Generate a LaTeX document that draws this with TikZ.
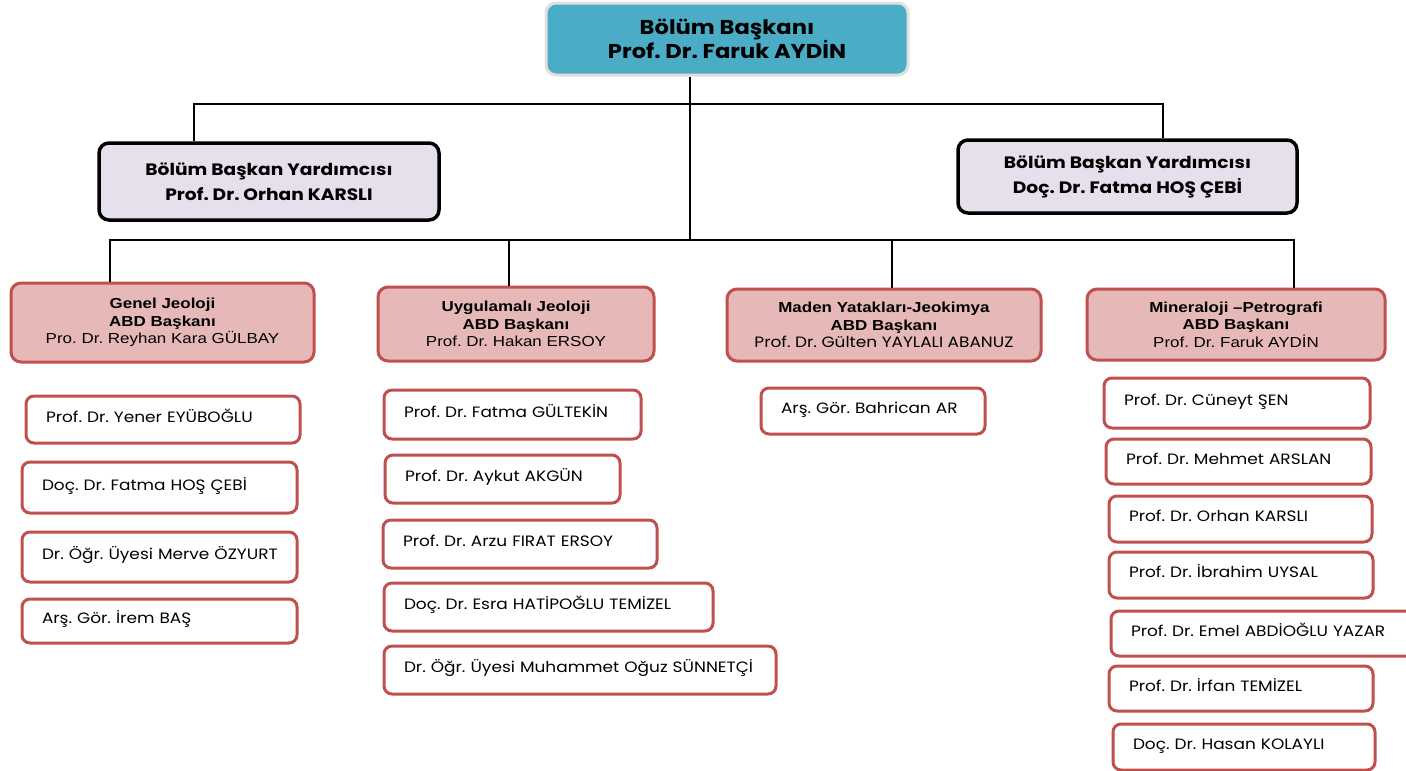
\documentclass[tikz,border=0pt]{standalone}
\usepackage{fontspec}
\setmainfont[FakeStretch=1.13]{Poppins}
\newfontfamily\arialf[FakeStretch=1.17]{Liberation Sans}
\definecolor{topteal}{HTML}{4BACC6}
\definecolor{lav}{HTML}{E5E0EC}
\definecolor{abdpink}{HTML}{E6B9B8}
\definecolor{abdred}{HTML}{C0504D}
\newcommand\cbox[7]{%
  \pgfmathsetmacro\cx{(#3+#5)/2}\pgfmathsetmacro\cy{(#4+#6)/2}%
  \pgfmathsetmacro\ww{#5-#3}\pgfmathsetmacro\hh{#6-#4}%
  \node[#1, minimum width=\ww pt, minimum height=\hh pt] (#2) at (\cx,\cy) {#7};}
\newcommand\lbox[6]{%
  \pgfmathsetmacro\cx{(#2+#4)/2}\pgfmathsetmacro\cy{(#3+#5)/2}%
  \pgfmathsetmacro\ww{#4-#2}\pgfmathsetmacro\hh{#5-#3}\pgfmathsetmacro\tw{\ww-40}%
  \node[memb, minimum width=\ww pt, minimum height=\hh pt, text width=\tw pt] (#1) at (\cx,\cy) {\hbox{#6}};}
\frenchspacing
\begin{document}
\begin{tikzpicture}[x=1pt,y=-1pt,
  topbox/.style={draw=black!12, line width=3pt, fill=topteal, rounded corners=10pt, align=center,
    font=\bfseries\fontsize{20}{24}\selectfont},
  vpbox/.style={draw=black, line width=3.5pt, fill=lav, rounded corners=10pt, align=center,
    font=\bfseries\fontsize{16.5}{25}\selectfont},
  abd/.style={draw=abdred, line width=3pt, fill=abdpink, rounded corners=10pt, align=center,
    font=\arialf\fontsize{14.5}{17.5}\selectfont, inner sep=0pt},
  memb/.style={draw=abdred, line width=3pt, fill=white, rounded corners=8pt, align=left,
    inner xsep=20pt, inner ysep=0pt, text height=11pt, text depth=6pt,
    font=\fontsize{15}{16}\selectfont},
  conn/.style={line width=1.8pt, black}]
\useasboundingbox (0,0) rectangle (1406,771);
% top
\cbox{topbox}{top}{546}{3}{908}{75}{Bölüm Başkanı\\Prof. Dr. Faruk AYDİN}
\cbox{vpbox}{vpl}{99}{143}{439}{220}{Bölüm Başkan Yardımcısı\\Prof. Dr. Orhan KARSLI}
\cbox{vpbox}{vpr}{958}{140}{1297}{213}{Bölüm Başkan Yardımcısı\\Doç. Dr. Fatma HOŞ ÇEBİ}
% ABD heads
\cbox{abd}{a1}{11}{283}{314}{362}{\textbf{Genel Jeoloji}\\\textbf{ABD Başkanı}\\Pro. Dr. Reyhan Kara GÜLBAY}
\cbox{abd}{a2}{378}{287}{654}{361}{\textbf{Uygulamalı Jeoloji}\\\textbf{ABD Başkanı}\\Prof. Dr. Hakan ERSOY}
\cbox{abd}{a3}{727}{289}{1041}{361}{\textbf{Maden Yatakları-Jeokimya}\\\textbf{ABD Başkanı}\\{\rmfamily\fontsize{15}{17.5}\selectfont Prof. Dr. Gülten YAYLALI ABANUZ}}
\cbox{abd}{a4}{1087}{289}{1385}{360}{\textbf{Mineraloji –Petrografi}\\\textbf{ABD Başkanı}\\Prof. Dr. Faruk AYDİN}
% members col 1
\lbox{m11}{26}{396}{300}{443}{Prof. Dr. Yener EYÜBOĞLU}
\lbox{m12}{22}{462}{297}{513}{Doç. Dr. Fatma HOŞ ÇEBİ}
\lbox{m13}{22}{532}{297}{582}{Dr. Öğr. Üyesi Merve ÖZYURT}
\lbox{m14}{22}{599}{297}{643}{Arş. Gör. İrem BAŞ}
% col 2
\lbox{m21}{384}{390}{641}{439}{Prof. Dr. Fatma GÜLTEKİN}
\lbox{m22}{385}{455}{620}{503}{Prof. Dr. Aykut AKGÜN}
\lbox{m23}{383}{520}{657}{568}{Prof. Dr. Arzu FIRAT ERSOY}
\lbox{m24}{384}{583}{713}{631}{Doç. Dr. Esra HATİPOĞLU TEMİZEL}
\lbox{m25}{384}{646}{776}{694}{Dr. Öğr. Üyesi Muhammet Oğuz SÜNNETÇİ}
% col 3
\lbox{m31}{761}{388}{985}{434}{Arş. Gör. Bahrican AR}
% col 4
\lbox{m41}{1104}{378}{1370}{428}{Prof. Dr. Cüneyt ŞEN}
\lbox{m42}{1106}{439}{1371}{484}{Prof. Dr. Mehmet ARSLAN}
\lbox{m43}{1109}{496}{1372}{542}{Prof. Dr. Orhan KARSLI}
\lbox{m44}{1109}{552}{1373}{598}{Prof. Dr. İbrahim UYSAL}
\lbox{m45}{1111}{611}{1420}{656}{Prof. Dr. Emel ABDİOĞLU YAZAR}
\lbox{m46}{1109}{666}{1373}{711}{Prof. Dr. İrfan TEMİZEL}
\lbox{m47}{1113}{724}{1375}{770}{Doç. Dr. Hasan KOLAYLI}
% connectors
\coordinate (j1) at (690,104);
\coordinate (j2) at (690,240);
\coordinate (cl) at (194,104);
\coordinate (cr) at (1163,104);
\coordinate (b1) at (110,240);
\coordinate (b2) at (509,240);
\coordinate (b3) at (892,240);
\coordinate (b4) at (1294,240);
\draw[conn] (top.south -| j1) -- (j2);
\draw[conn] (vpl.north -| cl) -- (cl) -- (cr) -- (vpr.north -| cr);
\draw[conn] (a1.north -| b1) -- (b1) -- (b4) -- (a4.north -| b4);
\draw[conn] (b2) -- (a2.north -| b2);
\draw[conn] (b3) -- (a3.north -| b3);
\end{tikzpicture}
\end{document}
